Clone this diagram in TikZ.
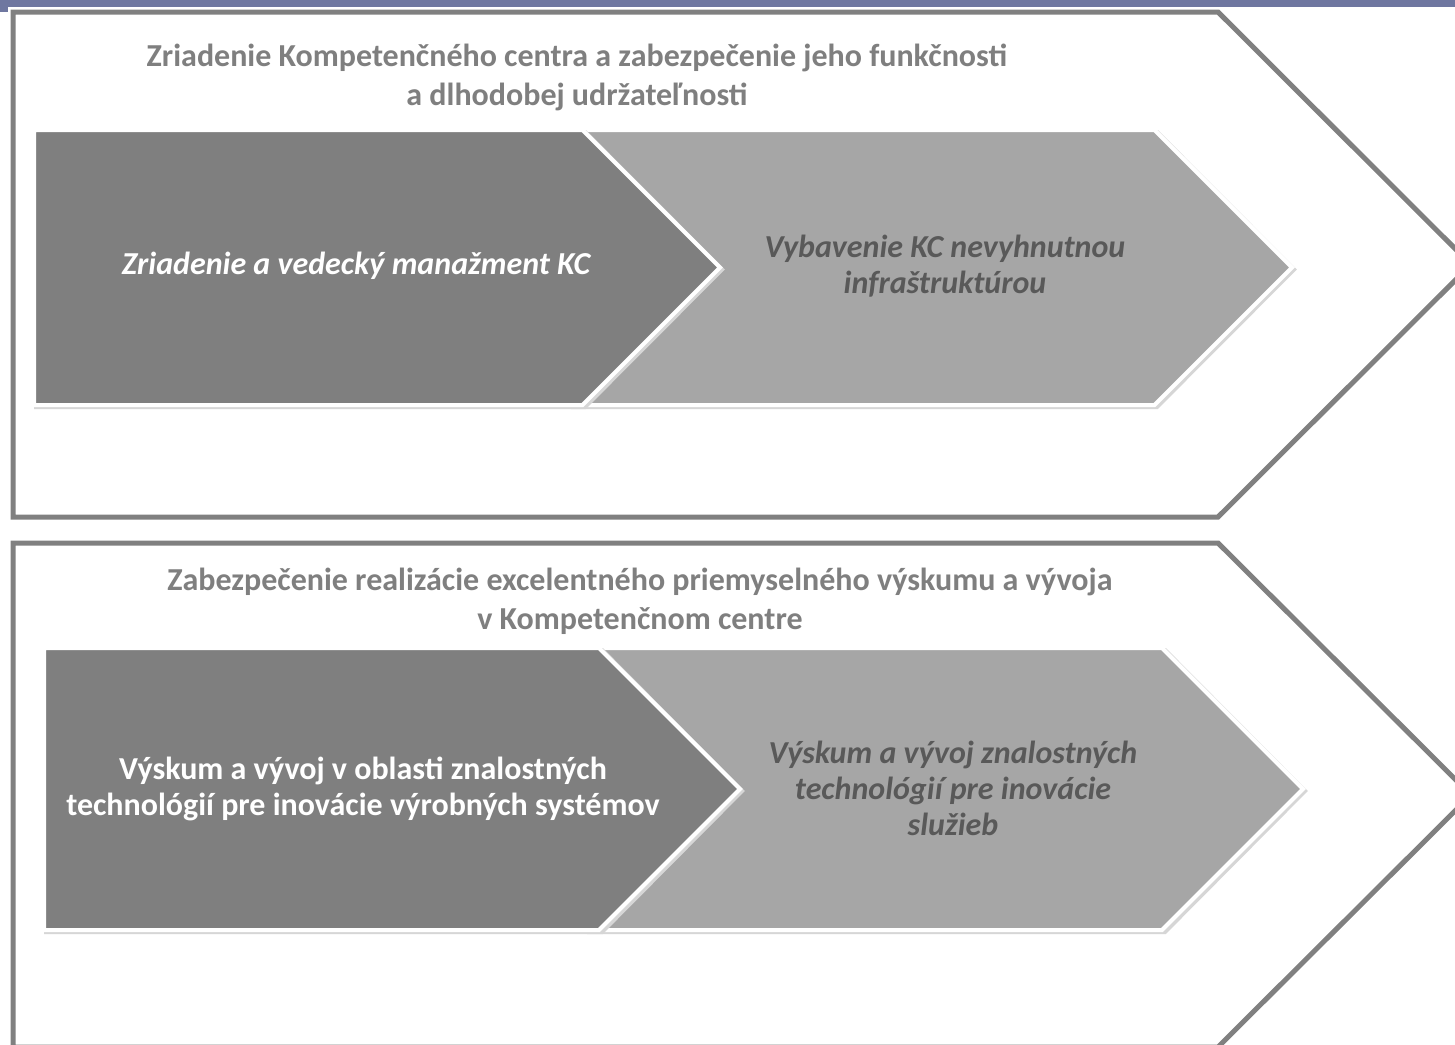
\documentclass[tikz,border=0pt]{standalone}
\usepackage{fontspec}
\setmainfont{Carlito}
\definecolor{outergray}{HTML}{808080}
\definecolor{darkfill}{HTML}{7F7F7F}
\definecolor{lightfill}{HTML}{A6A6A6}
\definecolor{headgray}{HTML}{7F7F7F}
\definecolor{boxtext}{HTML}{595959}
\definecolor{topbar}{HTML}{6F77A0}
\begin{document}
\begin{tikzpicture}[x=1pt,y=-1pt,
  outer/.style={draw=outergray,line width=5pt,line join=miter},
  darkshape/.style={fill=darkfill,draw=white,line width=4pt,line join=miter},
  lightshape/.style={fill=lightfill,draw=white,line width=4pt,line join=miter},
  shadowshape/.style={fill=black!16,draw=black!16,line width=4pt},
  headtext/.style={font=\fontsize{32}{39}\selectfont\bfseries,text=headgray,align=center,inner sep=0pt},
  whitetext/.style={font=\fontsize{32}{36}\selectfont\bfseries,text=white,align=center,inner sep=0pt},
  greytext/.style={font=\fontsize{32}{36}\selectfont\bfseries\itshape,text=boxtext,align=center,inner sep=0pt}]
\useasboundingbox (0,0) rectangle (1455,1044);
\fill[white] (0,0) rectangle (1455,1044);
% top bar
\fill[topbar] (0,0) rectangle (1455,7);
\fill[topbar] (0,0) rectangle (8,12);
% outer chevrons
\draw[outer] (13,12) -- (1218,12) -- (1471,264.5) -- (1218,517) -- (13,517) -- cycle;
\draw[outer] (13,543) -- (1218,543) -- (1471,795) -- (1218,1047) -- (13,1047) -- cycle;
% row 1
\begin{scope}
\draw[shadowshape] (573,132) -- (1157,132) -- (1294,269.5) -- (1157,407) -- (573,407) -- cycle;
\draw[lightshape] (570,130) -- (1154.5,130) -- (1292,267.5) -- (1154.5,405) -- (570,405) -- cycle;
\draw[shadowshape] (36,132) -- (585,132) -- (722,269.5) -- (585,407) -- (36,407) -- cycle;
\draw[darkshape] (34,130) -- (582.5,130) -- (720,267.5) -- (582.5,405) -- (34,405) -- cycle;
\end{scope}
% row 2
\begin{scope}
\draw[shadowshape] (589,650) -- (1165,650) -- (1305,791) -- (1165,932) -- (589,932) -- cycle;
\draw[lightshape] (586,648) -- (1162,648) -- (1303,789) -- (1162,930) -- (586,930) -- cycle;
\draw[shadowshape] (46,650) -- (602,650) -- (742,791) -- (602,932) -- (46,932) -- cycle;
\draw[darkshape] (44,648) -- (599,648) -- (740,789) -- (599,930) -- (44,930) -- cycle;
\end{scope}
% texts
\node[headtext] (h1) at (577,77) {Zriadenie Kompetenčného centra a zabezpečenie jeho funkčnosti\\a dlhodobej udržateľnosti};
\node[whitetext,font=\fontsize{32}{36}\selectfont\bfseries\itshape] (a1) at (356,266) {Zriadenie a vedecký manažment KC};
\node[greytext] (b1) at (945,266) {Vybavenie KC nevyhnutnou\\infraštruktúrou};
\node[headtext] (h2) at (640,601) {Zabezpečenie realizácie excelentného priemyselného výskumu a vývoja\\v Kompetenčnom centre};
\node[whitetext] (a2) at (363,789) {Výskum a vývoj v oblasti znalostných\\technológií pre inovácie výrobných systémov};
\node[greytext] (b2) at (953,788) {Výskum a vývoj znalostných\\technológií pre inovácie\\služieb};
\end{tikzpicture}
\end{document}
